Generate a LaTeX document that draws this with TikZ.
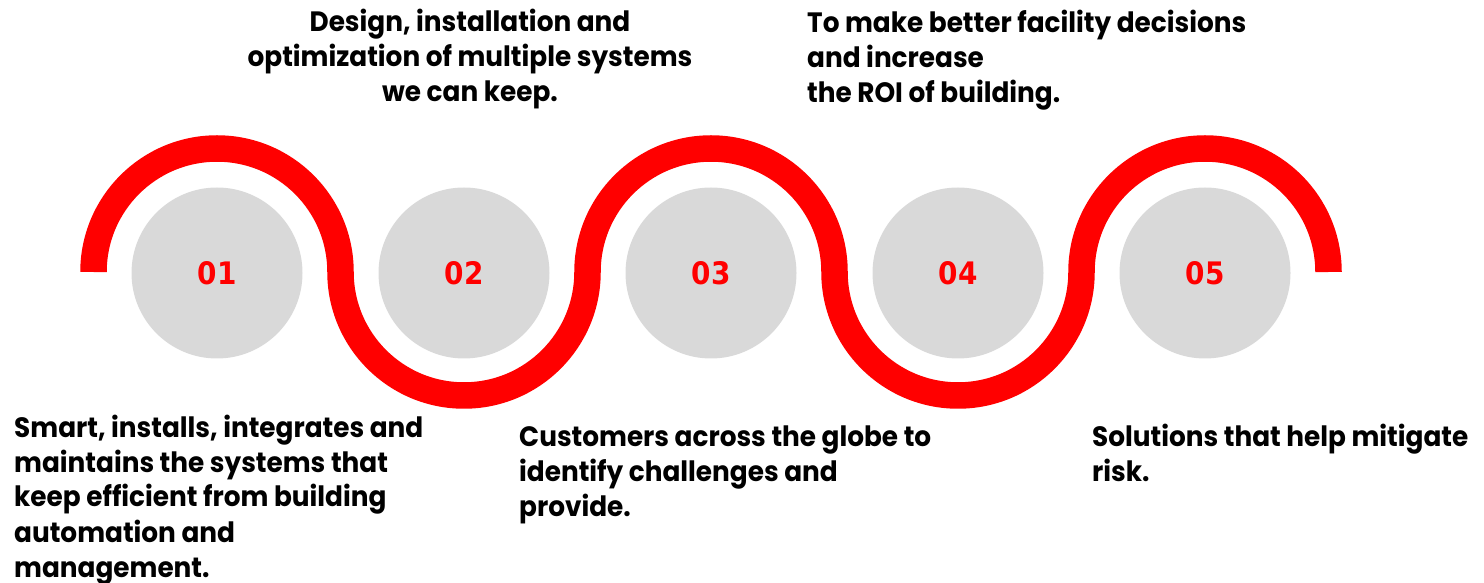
\documentclass[tikz,border=0pt]{standalone}
\usepackage{fontspec}
\setmainfont{Poppins}[FakeStretch=0.94]
\newfontfamily\numfont[FakeStretch=0.9]{DejaVu Sans}
\definecolor{wavered}{HTML}{FF0000}
\definecolor{discgray}{HTML}{D9D9D9}
\tikzset{
    numdisc/.style={circle, fill=discgray, minimum size=171pt, inner sep=0pt,
        text=wavered, font=\numfont\bfseries\fontsize{31}{31}\selectfont},
    infotext/.style={inner sep=0pt, font=\bfseries\fontsize{28}{35}\selectfont},
    wave/.style={draw=wavered, line width=26.5pt, line cap=butt},
}
\begin{document}
\begin{tikzpicture}[x=1pt,y=1pt]
                \useasboundingbox (0,-311) rectangle (1484,272);
                % numbered discs
                \foreach \i/\x in {1/217,2/464,3/711,4/958,5/1205}
                    \node[numdisc] (c\i) at (\x,-1) {0\i};
                % red wave round the discs
                \draw[wave] ([xshift=-123.5pt,yshift=1pt]c1.center)
                    arc[start angle=180, end angle=0, radius=123.5]
                    arc[start angle=180, end angle=360, radius=123.5]
                    arc[start angle=180, end angle=0, radius=123.5]
                    arc[start angle=180, end angle=360, radius=123.5]
                    arc[start angle=180, end angle=0, radius=123.5];
                % texts (base = baseline of the last line)
                \node[infotext, anchor=base west, align=left] (t1) at (14,-305)
                    {Smart, installs, integrates and\\maintains the systems that\\keep efficient from building\\automation and\\management.};
                \node[infotext, anchor=base, align=center] (t2) at (470,170)
                    {Design, installation and\\optimization of multiple systems\\we can keep.};
                \node[infotext, anchor=base west, align=left] (t3) at (519,-245)
                    {Customers across the globe to\\identify challenges and\\provide.};
                \node[infotext, anchor=base west, align=left] (t4) at (807,169)
                    {To make better facility decisions\\and increase\\the ROI of building.};
                \node[infotext, anchor=base west, align=left] (t5) at (1092,-210)
                    {Solutions that help mitigate\\risk.};
\end{tikzpicture}
\end{document}
